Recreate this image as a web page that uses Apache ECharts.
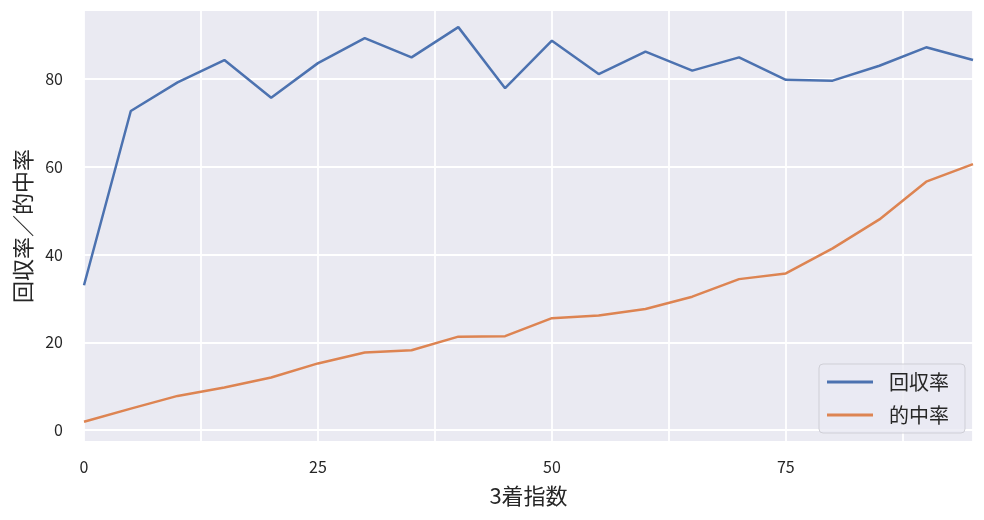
<!DOCTYPE html>
<html>
<head>
<meta charset="utf-8">
<script src="https://cdn.jsdelivr.net/npm/echarts@6/dist/echarts.min.js"></script>
<style>
html,body{margin:0;padding:0;background:#fff;}
#c{width:984px;height:520px;}
</style>
</head>
<body>
<div id="c"></div>
<script>
const xValues = [0,5,10,15,20,25,30,35,40,45,50,55,60,65,70,75,80,85,90,95];
const kaishuRitsu = [33.0,72.7,79.2,84.3,75.7,83.6,89.3,84.9,91.8,77.9,88.7,81.1,86.2,81.9,84.9,79.8,79.6,83.0,87.2,84.3];
const tekichuRitsu = [1.9,4.9,7.8,9.7,12.0,15.2,17.7,18.2,21.3,21.4,25.5,26.1,27.6,30.4,34.4,35.7,41.4,48.0,56.6,60.6];
const seriesNames = ['回収率','的中率'];
const xTickLabels = [0,25,50,75];
const xAxisName = '3着指数';
const yAxisName = '回収率／的中率';

const FONT = '"Noto Sans CJK JP", "Noto Sans", sans-serif';
const chart = echarts.init(document.getElementById('c'), null, {renderer:'canvas'});
const toPairs = (xs, ys) => xs.map((x,i)=>[x, ys[i]]);

chart.setOption({
  animation:false,
  backgroundColor:'#ffffff',
  textStyle:{fontFamily:FONT},
  grid:{left:84,right:11,top:10,bottom:78,show:true,backgroundColor:'#EAEAF2',borderWidth:0,containLabel:false},
  legend:{
    data:seriesNames,
    orient:'vertical',
    right:19,
    bottom:87,
    icon:'rect',
    itemWidth:46,
    itemHeight:3,
    itemGap:13,
    padding:[8,16,8,8],
    backgroundColor:'rgba(234,234,242,0.8)',
    borderColor:'#cfcfd6',
    borderWidth:1,
    borderRadius:4,
    textStyle:{fontFamily:FONT,fontSize:20,color:'#262626',lineHeight:20,padding:[0,0,0,11]}
  },
  xAxis:{
    type:'value',
    min:0,max:95,interval:12.5,
    name:xAxisName,
    nameLocation:'middle',
    nameGap:43,
    nameTextStyle:{fontFamily:FONT,fontSize:22,color:'#262626'},
    axisLine:{show:false},
    axisTick:{show:false},
    axisLabel:{
      margin:17,fontSize:16,color:'#262626',fontFamily:FONT,
      showMaxLabel:false,
      formatter:v => xTickLabels.includes(v) ? String(v) : ''
    },
    splitLine:{show:true,lineStyle:{color:'#ffffff',width:1.8}}
  },
  yAxis:{
    type:'value',
    min:-2.7,max:95.7,splitNumber:5,
    name:yAxisName,
    nameLocation:'middle',
    nameGap:50,
    nameRotate:90,
    nameTextStyle:{fontFamily:FONT,fontSize:22,color:'#262626'},
    axisLine:{show:false},
    axisTick:{show:false},
    axisLabel:{margin:21,fontSize:16,color:'#262626',fontFamily:FONT,showMinLabel:false,showMaxLabel:false},
    splitLine:{show:true,lineStyle:{color:'#ffffff',width:1.8}}
  },
  series:[
    {name:seriesNames[0],type:'line',data:toPairs(xValues,kaishuRitsu),showSymbol:false,symbol:'none',
     lineStyle:{color:'#4C72B0',width:2.5},itemStyle:{color:'#4C72B0'}},
    {name:seriesNames[1],type:'line',data:toPairs(xValues,tekichuRitsu),showSymbol:false,symbol:'none',
     lineStyle:{color:'#DD8452',width:2.5},itemStyle:{color:'#DD8452'}}
  ]
});
</script>
</body>
</html>
